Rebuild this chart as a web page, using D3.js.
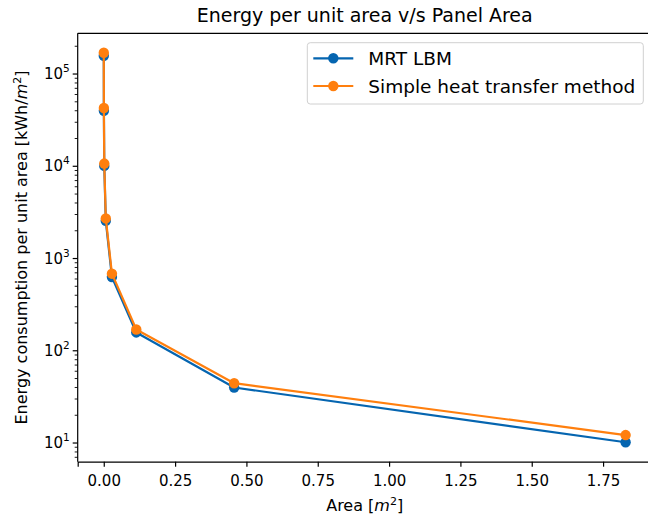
<!DOCTYPE html>
<html>
<head>
<meta charset="utf-8">
<script src="https://cdn.jsdelivr.net/npm/d3@7"></script>
<style>
  body { margin: 0; background: #fff; }
  svg { font-family: "DejaVu Sans", sans-serif; }
</style>
</head>
<body>
<div id="vis"></div>
<script>
const FRAME_WIDTH = 648;
const FRAME_HEIGHT = 519;
const MARGINS = { left: 77.7, right: -3.7, top: 33.3, bottom: 57.3 };

const VIS_WIDTH = FRAME_WIDTH - MARGINS.left - MARGINS.right;
const VIS_HEIGHT = FRAME_HEIGHT - MARGINS.top - MARGINS.bottom;

// data
const AREA = [0.000112, 0.000446, 0.00179, 0.00714, 0.0286, 0.114, 0.457, 1.829];
const MRT_LBM = [158000, 40000, 10100, 2560, 630, 158, 40, 10.2];
const SIMPLE_HT = [170000, 42800, 10700, 2720, 685, 170, 44.5, 12.2];
const X_TICKS = [0, 0.25, 0.5, 0.75, 1.0, 1.25, 1.5, 1.75];
const Y_DECADES = [1, 2, 3, 4, 5];

const SERIES = [
  { name: "MRT LBM", values: MRT_LBM, color: "#0565b0" },
  { name: "Simple heat transfer method", values: SIMPLE_HT, color: "#ff7f0e" }
];

const FRAME = d3.select("#vis")
  .append("svg")
  .attr("width", FRAME_WIDTH)
  .attr("height", FRAME_HEIGHT);

// scales with matplotlib-like 5% padding
const xMin = d3.min(AREA), xMax = d3.max(AREA);
const xPad = (xMax - xMin) * 0.05;
const X_SCALE = d3.scaleLinear()
  .domain([xMin - xPad, xMax + xPad])
  .range([0, VIS_WIDTH]);

const allY = MRT_LBM.concat(SIMPLE_HT);
const lMin = Math.log10(d3.min(allY)), lMax = Math.log10(d3.max(allY));
const lPad = (lMax - lMin) * 0.05;
const Y_SCALE = d3.scaleLog()
  .domain([Math.pow(10, lMin - lPad), Math.pow(10, lMax + lPad)])
  .range([VIS_HEIGHT, 0]);

const PLOT = FRAME.append("g")
  .attr("transform", `translate(${MARGINS.left}, ${MARGINS.top})`);

// lines and markers
const line = d3.line()
  .x((d, i) => X_SCALE(AREA[i]))
  .y((d) => Y_SCALE(d));

SERIES.forEach((s) => {
  PLOT.append("path")
    .datum(s.values)
    .attr("d", line)
    .attr("fill", "none")
    .attr("stroke", s.color)
    .attr("stroke-width", 2.2)
    .attr("stroke-linejoin", "round");
  PLOT.selectAll(null)
    .data(s.values)
    .enter()
    .append("circle")
    .attr("cx", (d, i) => X_SCALE(AREA[i]))
    .attr("cy", (d) => Y_SCALE(d))
    .attr("r", 5.2)
    .attr("fill", s.color);
});

// x axis
const X_AXIS = d3.axisBottom(X_SCALE)
  .tickValues(X_TICKS)
  .tickFormat(d3.format(".2f"))
  .tickSizeOuter(0)
  .tickSize(5)
  .tickPadding(9);

const gx = FRAME.append("g")
  .attr("transform", `translate(${MARGINS.left}, ${MARGINS.top + VIS_HEIGHT})`)
  .call(X_AXIS);
gx.select(".domain").attr("stroke", "#000").attr("stroke-width", 1.2);
gx.selectAll(".tick line").attr("stroke", "#000").attr("stroke-width", 1.2);
gx.selectAll(".tick text").attr("font-size", 15).attr("fill", "#000")
  .attr("font-family", "DejaVu Sans");

// y axis: decades with superscripts, plus minor ticks
const gy = FRAME.append("g")
  .attr("transform", `translate(${MARGINS.left}, ${MARGINS.top})`);

const [yLo, yHi] = Y_SCALE.domain();
const minor = [];
for (let e = Math.floor(Math.log10(yLo)); e <= Math.ceil(Math.log10(yHi)); e++) {
  for (let m = 2; m <= 9; m++) {
    const v = m * Math.pow(10, e);
    if (v >= yLo && v <= yHi) minor.push(v);
  }
}

gy.selectAll(".minor")
  .data(minor)
  .enter()
  .append("line")
  .attr("x1", -3).attr("x2", 0)
  .attr("y1", (d) => Y_SCALE(d)).attr("y2", (d) => Y_SCALE(d))
  .attr("stroke", "#000").attr("stroke-width", 0.9);

const major = gy.selectAll(".major")
  .data(Y_DECADES)
  .enter()
  .append("g")
  .attr("transform", (d) => `translate(0, ${Y_SCALE(Math.pow(10, d))})`);

major.append("line")
  .attr("x1", -5).attr("x2", 0)
  .attr("stroke", "#000").attr("stroke-width", 1.2);

const lbl = major.append("text")
  .attr("x", -8)
  .attr("y", 5)
  .attr("text-anchor", "end")
  .attr("font-size", 15)
  .attr("fill", "#000");
lbl.append("tspan").text("10");
lbl.append("tspan").attr("dy", -7).attr("font-size", 10.5).text((d) => d);

// spines
FRAME.append("line")
  .attr("x1", MARGINS.left).attr("x2", MARGINS.left)
  .attr("y1", MARGINS.top).attr("y2", MARGINS.top + VIS_HEIGHT)
  .attr("stroke", "#000").attr("stroke-width", 1.2);
FRAME.append("line")
  .attr("x1", MARGINS.left).attr("x2", MARGINS.left + VIS_WIDTH)
  .attr("y1", MARGINS.top).attr("y2", MARGINS.top)
  .attr("stroke", "#000").attr("stroke-width", 1.2);

// labels
FRAME.append("text")
  .attr("x", MARGINS.left + VIS_WIDTH / 2)
  .attr("y", 22)
  .attr("text-anchor", "middle")
  .attr("font-size", 19)
  .text("Energy per unit area v/s Panel Area");

const xl = FRAME.append("text")
  .attr("x", MARGINS.left + VIS_WIDTH / 2)
  .attr("y", 510.5)
  .attr("text-anchor", "middle")
  .attr("font-size", 16);
xl.append("tspan").text("Area [");
xl.append("tspan").attr("font-style", "italic").text("m");
xl.append("tspan").attr("dy", -6).attr("font-size", 11).text("2");
xl.append("tspan").attr("dy", 6).text("]");

const yl = FRAME.append("text")
  .attr("transform", `translate(27, ${MARGINS.top + VIS_HEIGHT / 2}) rotate(-90)`)
  .attr("text-anchor", "middle")
  .attr("font-size", 16);
yl.append("tspan").text("Energy consumption per unit area [kWh/");
yl.append("tspan").attr("font-style", "italic").text("m");
yl.append("tspan").attr("dy", -6).attr("font-size", 11).text("2");
yl.append("tspan").attr("dy", 6).text("]");

// legend
const LEG = FRAME.append("g").attr("transform", "translate(307.3, 42.7)");
LEG.append("rect")
  .attr("width", 336).attr("height", 61.3)
  .attr("rx", 3)
  .attr("fill", "#fff").attr("fill-opacity", 0.8)
  .attr("stroke", "#d0d0d0").attr("stroke-width", 1);

const rows = LEG.selectAll(".row")
  .data(SERIES)
  .enter()
  .append("g")
  .attr("transform", (d, i) => `translate(0, ${15.6 + i * 27.7})`);
rows.append("line")
  .attr("x1", 6).attr("x2", 46)
  .attr("stroke", (d) => d.color).attr("stroke-width", 2.2);
rows.append("circle")
  .attr("cx", 26).attr("r", 5.2)
  .attr("fill", (d) => d.color);
rows.append("text")
  .attr("x", 61).attr("y", 6.5)
  .attr("font-size", 18.5)
  .text((d) => d.name);
</script>
</body>
</html>
